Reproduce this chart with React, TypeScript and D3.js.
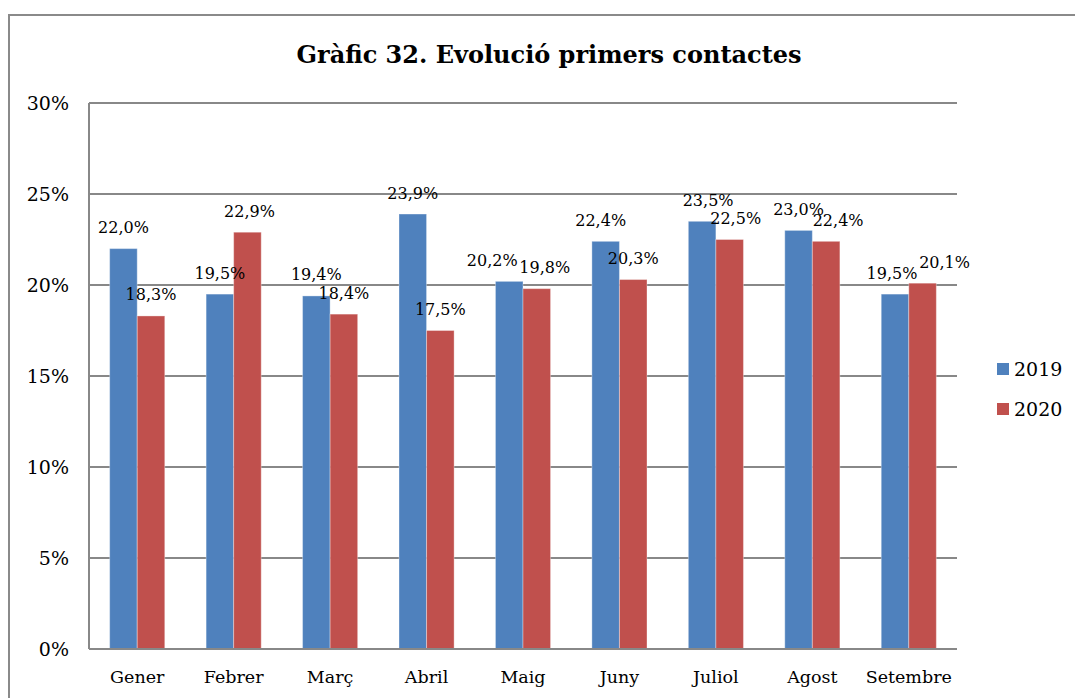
import React from "react";
import * as d3 from "d3";

const months = ["Gener", "Febrer", "Març", "Abril", "Maig", "Juny", "Juliol", "Agost", "Setembre"];
const series = ["2019", "2020"];
const values2019 = [22.0, 19.5, 19.4, 23.9, 20.2, 22.4, 23.5, 23.0, 19.5];
const values2020 = [18.3, 22.9, 18.4, 17.5, 19.8, 20.3, 22.5, 22.4, 20.1];
const yTicks = [0, 5, 10, 15, 20, 25, 30];

// small horizontal nudges for data labels that would collide
const labelNudge2019 = [0, 0, 0, 0, -17, -5, 6, 0, -3];
const labelNudge2020 = [0, 2, 0, 0, 8, 0, 6, 12, 22];

const colors = ["#4F81BD", "#C0504D"];
const font = "'DejaVu Serif', serif";

const fmt = (v: number) => v.toFixed(1).replace(".", ",") + "%";

export default function App() {
  const width = 1075;
  const height = 698;
  const margin = { top: 103, right: 118, bottom: 49, left: 89 };
  const innerWidth = width - margin.left - margin.right;
  const innerHeight = height - margin.top - margin.bottom;

  const x = d3.scaleBand().domain(months).range([0, innerWidth]).paddingInner(0).paddingOuter(0);
  const bw = x.bandwidth() / 3.5;
  const x1 = d3.scaleBand().domain(series).range([0, bw * 2]);
  const y = d3.scaleLinear().domain([0, 30]).range([innerHeight, 0]);

  const allSeries = [
    { key: series[0], values: values2019, nudge: labelNudge2019, color: colors[0] },
    { key: series[1], values: values2020, nudge: labelNudge2020, color: colors[1] },
  ];

  return (
    <svg
      width={width}
      height={height}
      style={{ position: "absolute", left: 0, top: 0, background: "#fff" }}
      fontFamily={font}
    >
      <rect x={9} y={15} width={width + 20} height={height + 20} fill="#fff" stroke="#8a8a8a" strokeWidth={2} />

      <text
        x={549}
        y={63}
        textAnchor="middle"
        fontSize={24}
        fontWeight="bold"
        fill="#000"
      >
        Gràfic 32. Evolució primers contactes
      </text>

      <g transform={`translate(${margin.left},${margin.top})`}>
        {yTicks.map((t) => (
          <g key={t}>
            {t > 0 && (
              <line x1={0} x2={innerWidth} y1={y(t)} y2={y(t)} stroke="#888" strokeWidth={2} />
            )}
            <text
              x={-20}
              y={y(t)}
              textAnchor="end"
              dominantBaseline="central"
              fontSize={19}
              fill="#000"
            >
              {t}%
            </text>
          </g>
        ))}

        {months.map((m, i) => {
          const cx = (x(m) as number) + x.bandwidth() / 2;
          const gx = cx - bw;
          return (
            <g key={m}>
              {allSeries.map((s) => {
                const v = s.values[i];
                const bx = gx + (x1(s.key) as number);
                return (
                  <rect
                    key={s.key}
                    x={bx}
                    y={y(v)}
                    width={x1.bandwidth()}
                    height={innerHeight - y(v)}
                    fill={s.color}
                    stroke="rgba(255,255,255,0.35)"
                    strokeWidth={1}
                  />
                );
              })}
              {allSeries.map((s) => {
                const v = s.values[i];
                const bx = gx + (x1(s.key) as number) + x1.bandwidth() / 2;
                return (
                  <text
                    key={s.key}
                    x={bx + s.nudge[i]}
                    y={y(v) - 21}
                    textAnchor="middle"
                    dominantBaseline="central"
                    fontSize={16}
                    fill="#000"
                  >
                    {fmt(v)}
                  </text>
                );
              })}
              <text
                x={cx}
                y={innerHeight + 28}
                textAnchor="middle"
                dominantBaseline="central"
                fontSize={17.5}
                fill="#000"
              >
                {m}
              </text>
            </g>
          );
        })}

        <line x1={0} x2={innerWidth} y1={innerHeight} y2={innerHeight} stroke="#888" strokeWidth={2} />
        <line x1={0} x2={0} y1={0} y2={innerHeight} stroke="#888" strokeWidth={2} />

        {allSeries.map((s, i) => (
          <g key={s.key} transform={`translate(${innerWidth + 40},${266 + i * 40})`}>
            <rect x={0} y={-6} width={12} height={12} fill={s.color} />
            <text x={17} y={0} dominantBaseline="central" fontSize={19} fill="#000">
              {s.key}
            </text>
          </g>
        ))}
      </g>
    </svg>
  );
}
